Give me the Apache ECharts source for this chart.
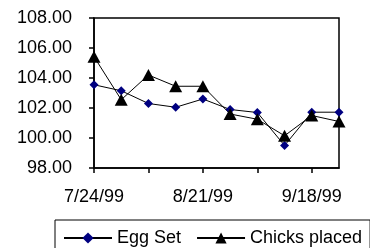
<!DOCTYPE html>
<html>
<head>
<meta charset="utf-8">
<script src="https://cdn.jsdelivr.net/npm/echarts@6/dist/echarts.min.js"></script>
<style>
  html, body { margin: 0; padding: 0; background: #fff; }
  #chart { width: 370px; height: 248px; }
</style>
</head>
<body>
<div id="chart"></div>
<script>
var weeks = ["7/24/99", "7/31/99", "8/7/99", "8/14/99", "8/21/99", "8/28/99", "9/4/99", "9/11/99", "9/18/99", "9/25/99"];
var eggSet = [103.55, 103.15, 102.3, 102.05, 102.6, 101.9, 101.7, 99.5, 101.72, 101.72];
var chicksPlaced = [105.42, 102.55, 104.2, 103.45, 103.45, 101.6, 101.25, 100.15, 101.5, 101.1];
var yTicks = { min: 98, max: 108, step: 2 };

var font = "Liberation Sans, Arial, sans-serif";
var chart = echarts.init(document.getElementById("chart"));
var option = {
  animation: false,
  backgroundColor: "#fff",
  grid: {
    left: 94,
    top: 18,
    right: 31,
    bottom: 80,
    show: true,
    borderColor: "#000",
    borderWidth: 1.5
  },
  legend: {
    left: 55,
    top: 220,
    width: 360,
    padding: [9, 8, 9, 8],
    itemGap: 15,
    itemWidth: 48,
    itemHeight: 14,
    borderColor: "#000",
    borderWidth: 1,
    textStyle: { fontFamily: font, fontSize: 18, color: "#000" },
    data: ["Egg Set", "Chicks placed"]
  },
  xAxis: {
    type: "category",
    data: weeks,
    boundaryGap: false,
    axisLine: { lineStyle: { color: "#000", width: 1.5 } },
    axisTick: { interval: 1, length: 5, lineStyle: { color: "#000", width: 1.5 } },
    axisLabel: { interval: 3, margin: 20, fontFamily: font, fontSize: 18, color: "#000" },
    splitLine: { show: false }
  },
  yAxis: {
    type: "value",
    min: yTicks.min,
    max: yTicks.max,
    interval: yTicks.step,
    axisLine: { show: true, lineStyle: { color: "#000", width: 1.5 } },
    axisTick: { show: true, length: 5, lineStyle: { color: "#000", width: 1.5 } },
    axisLabel: {
      margin: 22,
      fontFamily: font,
      fontSize: 18,
      color: "#000",
      formatter: function (v) { return v.toFixed(2); }
    },
    splitLine: { show: false }
  },
  series: [
    {
      name: "Egg Set",
      type: "line",
      data: eggSet,
      symbol: "diamond",
      symbolSize: 9,
      itemStyle: { color: "#000080" },
      lineStyle: { color: "#000", width: 1 }
    },
    {
      name: "Chicks placed",
      type: "line",
      data: chicksPlaced,
      symbol: "triangle",
      symbolSize: [13, 12],
      itemStyle: { color: "#000" },
      lineStyle: { color: "#000", width: 1 }
    }
  ]
};
chart.setOption(option);
</script>
</body>
</html>
